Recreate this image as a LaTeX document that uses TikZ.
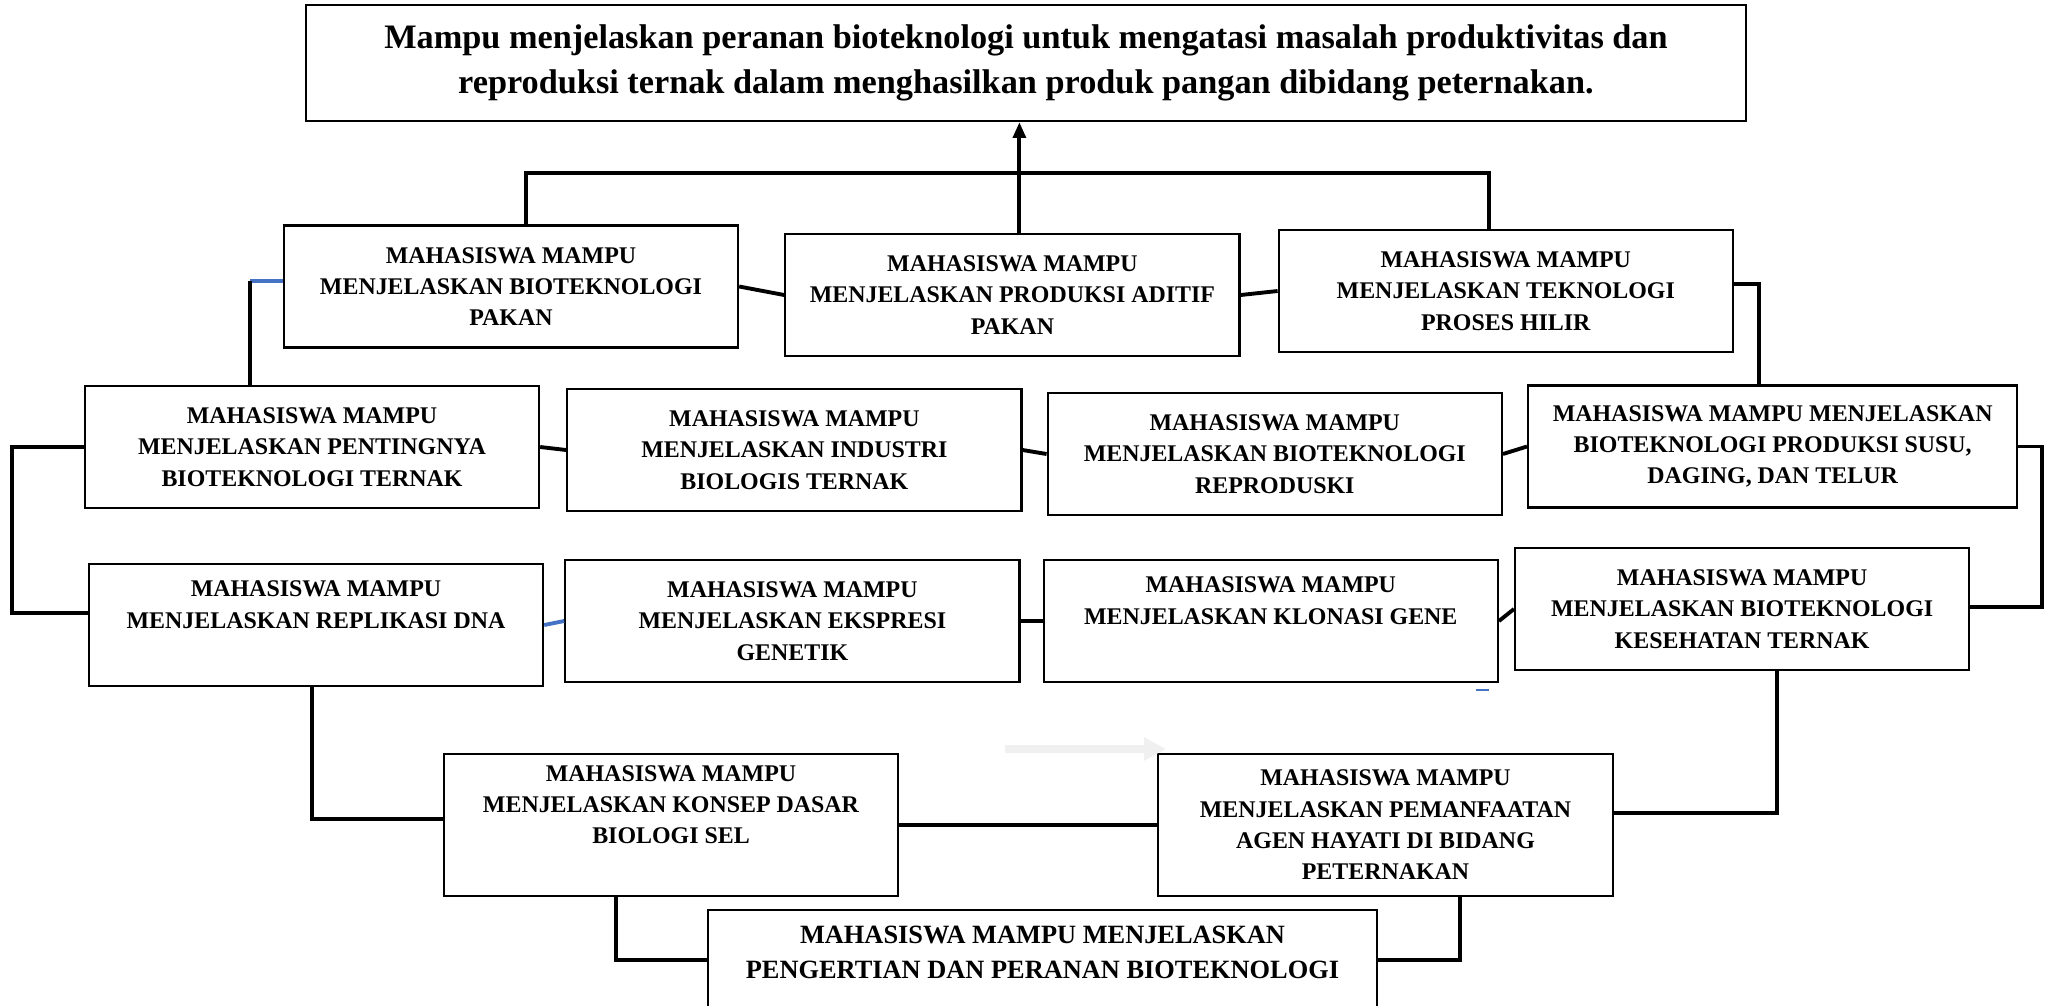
\documentclass[tikz,border=0pt]{standalone}
\usepackage{fontspec}
\setmainfont{Liberation Serif}
\usetikzlibrary{arrows.meta, positioning, calc}
\definecolor{linkblue}{HTML}{4472C4}

\begin{document}
\begin{tikzpicture}[
    >=Latex,
    x=0.01cm, y=-0.01cm,
    % Gaya kotak
    goalbox/.style={rectangle, draw=black, line width=0.6pt, align=center, minimum width=14.40cm, minimum height=1.16cm, inner sep=2pt, font=\fontsize{9.75}{12.6}\selectfont\bfseries},
    unitbox/.style={rectangle, draw=black, line width=0.6pt, align=center, minimum width=4.54cm, minimum height=1.22cm, inner xsep=2pt, inner ysep=0pt, font=\fontsize{6.8}{8.9}\selectfont\bfseries},
    link/.style={line width=1.1pt, black},
    bluelink/.style={line width=1.1pt, color=linkblue}
]
\useasboundingbox (0,0) rectangle (2053,1005);

% -------------------------
% TUJUAN (Atas)
% -------------------------
\node[goalbox] (tujuan) at (1026,63) {
    Mampu menjelaskan peranan bioteknologi untuk mengatasi masalah produktivitas dan\\
    reproduksi ternak dalam menghasilkan produk pangan dibidang peternakan.
};

% -------------------------
% BARIS 1
% -------------------------
\node[unitbox] (pakan) at (511,286.5) {MAHASISWA MAMPU\\MENJELASKAN BIOTEKNOLOGI\\PAKAN};
\node[unitbox, right=0.45cm of pakan, yshift=-0.085cm] (aditif) {MAHASISWA MAMPU\\MENJELASKAN PRODUKSI ADITIF\\PAKAN};
\node[unitbox, right=0.37cm of aditif, yshift=0.04cm] (hilir) {MAHASISWA MAMPU\\MENJELASKAN TEKNOLOGI\\PROSES HILIR};

% -------------------------
% BARIS 2
% -------------------------
\node[unitbox] (penting) at (312,447) {MAHASISWA MAMPU\\MENJELASKAN PENTINGNYA\\BIOTEKNOLOGI TERNAK};
\node[unitbox, right=0.26cm of penting, yshift=-0.03cm] (industri) {MAHASISWA MAMPU\\MENJELASKAN INDUSTRI\\BIOLOGIS TERNAK};
\node[unitbox, right=0.24cm of industri, yshift=-0.04cm] (reproduksi) {MAHASISWA MAMPU\\MENJELASKAN BIOTEKNOLOGI\\REPRODUSKI};
\node[unitbox, minimum width=4.89cm, right=0.24cm of reproduksi, yshift=0.075cm] (susu) {MAHASISWA MAMPU MENJELASKAN\\BIOTEKNOLOGI PRODUKSI SUSU,\\DAGING, DAN TELUR};

% -------------------------
% BARIS 3
% -------------------------
\node[unitbox] (replikasi) at (316,625) {MAHASISWA MAMPU\\MENJELASKAN REPLIKASI DNA\\\strut};
\node[unitbox, right=0.20cm of replikasi, yshift=0.04cm] (ekspresi) {MAHASISWA MAMPU\\MENJELASKAN EKSPRESI\\GENETIK};
\node[unitbox, right=0.22cm of ekspresi] (klonasi) {MAHASISWA MAMPU\\MENJELASKAN KLONASI GENE\\\strut};
\node[unitbox, right=0.15cm of klonasi, yshift=0.12cm] (kesehatan) {MAHASISWA MAMPU\\MENJELASKAN BIOTEKNOLOGI\\KESEHATAN TERNAK};

% -------------------------
% BARIS 4 dan DASAR
% -------------------------
\node[unitbox, minimum height=1.42cm] (biosel) at (671,825) {MAHASISWA MAMPU\\MENJELASKAN KONSEP DASAR\\BIOLOGI SEL\\\strut};
\node[unitbox, minimum height=1.42cm, right=2.58cm of biosel] (hayati) {MAHASISWA MAMPU\\MENJELASKAN PEMANFAATAN\\AGEN HAYATI DI BIDANG\\PETERNAKAN};

\node[unitbox, minimum width=6.69cm, minimum height=1.30cm, font=\fontsize{7.5}{10}\selectfont\bfseries] (pengertian) at (1042.5,975) {MAHASISWA MAMPU MENJELASKAN\\PENGERTIAN DAN PERANAN BIOTEKNOLOGI\\\strut};

% -------------------------
% KONEKSI
% -------------------------
% Baris 1 -> tujuan
\coordinate (bus) at (1020,173);
\coordinate (arrowfoot) at ([xshift=0.07cm]aditif.north);
\draw[link] ([xshift=0.15cm]pakan.north) |- (bus) -| ([xshift=-0.17cm]hilir.north);
\draw[link, -{Triangle[length=4.5pt,width=3.6pt]}] (arrowfoot) -- (arrowfoot |- tujuan.south);

\draw[link] (pakan.east) -- (aditif.west);
\draw[link] (aditif.east) -- (hilir.west);
\draw[link] ([yshift=0.07cm]hilir.east) -| ([xshift=-0.14cm]susu.north);

% Baris 2 -> baris 1 (garis biru)
\coordinate (pentingtop) at ([xshift=-0.62cm]penting.north);
\coordinate (pakanleft) at ([yshift=0.055cm]pakan.west);
\draw[bluelink] (pakanleft) -- (pentingtop |- pakanleft);
\draw[link] (pentingtop) -- (pentingtop |- pakanleft);

\draw[link] (penting.east) -- (industri.west);
\draw[link] (industri.east) -- (reproduksi.west);
\draw[link] (reproduksi.east) -- (susu.west);
\draw[link] (susu.east) -- ++(0.24cm,0) |- ([yshift=0.02cm]kesehatan.east);
\draw[link] (penting.west) -- ++(-0.72cm,0) |- ([yshift=0.12cm]replikasi.west);

% Baris 3
\draw[bluelink] (replikasi.east) -- (ekspresi.west);
\draw[link] (ekspresi.east) -- (klonasi.west);
\draw[link] (klonasi.east) -- (kesehatan.west);
\coordinate (noda) at ([shift={(-0.23cm,-0.07cm)}]klonasi.south east);
\draw[bluelink, line width=0.5pt] (noda) -- ++(0.13cm,0);

% Panah abu-abu samar
\draw[line width=2pt, color=black!6, -{Triangle[length=6.2pt,width=6.2pt]}] (1005,749) -- (1166,749);

% Baris 3 -> baris 4
\draw[link] ([xshift=-0.04cm]replikasi.south) |- ([yshift=0.06cm]biosel.west);
\draw[link] (biosel.east) -- (hayati.west);
\draw[link] ([xshift=0.345cm]kesehatan.south) |- ([yshift=0.12cm]hayati.east);

% Baris 4 -> dasar
\draw[link] ([xshift=-0.55cm]biosel.south) |- ([yshift=0.15cm]pengertian.west);
\draw[link] ([xshift=0.745cm]hayati.south) |- ([yshift=0.15cm]pengertian.east);

\end{tikzpicture}
\end{document}
